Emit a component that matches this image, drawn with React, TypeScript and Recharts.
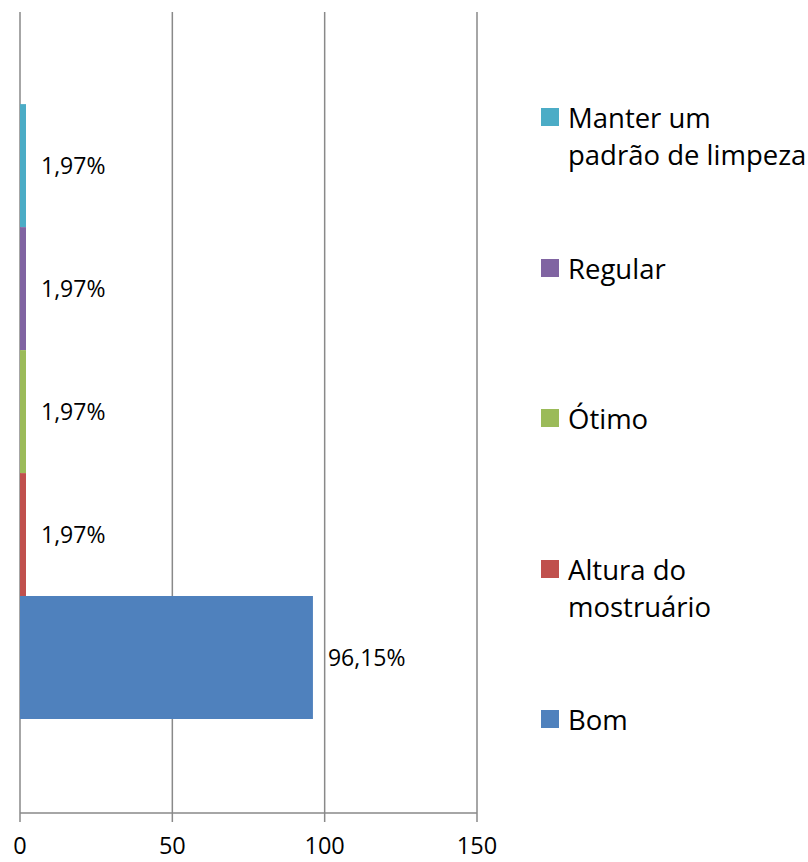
import React from 'react';
import { BarChart, Bar, XAxis, YAxis, CartesianGrid, LabelList } from 'recharts';

const seriesKeys = ['manter', 'regular', 'otimo', 'altura', 'bom'];
const seriesNames = ['Manter um\npadrão de limpeza', 'Regular', 'Ótimo', 'Altura do\nmostruário', 'Bom'];
const seriesValues = [1.97, 1.97, 1.97, 1.97, 96.15];
const seriesColors = ['#4BACC6', '#8064A2', '#9BBB59', '#C0504D', '#4F81BD'];
const xTicks = [0, 50, 100, 150];
const legendCenters = [117, 268, 418, 569, 719];

const row: Record<string, any> = { name: 'Avaliação' };
seriesKeys.forEach((k, i) => { row[k] = seriesValues[i]; });
const data = [row];

const FONT = '"Open Sans", sans-serif';
const fmt = (v: any) => Number(v).toFixed(2).replace('.', ',') + '%';

export default function App() {
  return (
    <div style={{ position: 'absolute', left: 0, top: 0, width: 808, height: 862, background: '#fff', fontFamily: FONT }}>
      <BarChart
        width={808}
        height={862}
        data={data}
        layout="vertical"
        margin={{ top: 12, left: 20, right: 331, bottom: 0 }}
        barCategoryGap="11.5%"
        barGap={0}
      >
        <CartesianGrid horizontal={false} stroke="#898989" strokeWidth={1.5} />
        <XAxis
          type="number"
          domain={[0, 150]}
          ticks={xTicks}
          interval={0}
          axisLine={{ stroke: '#898989', strokeWidth: 1.5 }}
          tickLine={{ stroke: '#898989', strokeWidth: 1.5 }}
          tickSize={9}
          tickMargin={15}
          tick={{ fill: '#000', fontSize: 23.5, fontFamily: FONT }}
          height={49}
        />
        <YAxis type="category" dataKey="name" hide />
        {seriesKeys.map((k, i) => (
          <Bar key={k} dataKey={k} fill={seriesColors[i]} isAnimationActive={false}>
            <LabelList
              dataKey={k}
              position="right"
              offset={15}
              formatter={fmt}
              style={{ fill: '#000', fontSize: 23, fontFamily: FONT }}
            />
          </Bar>
        ))}
      </BarChart>
      {seriesKeys.map((k, i) => (
        <div
          key={k}
          style={{
            position: 'absolute',
            left: 541,
            top: legendCenters[i] - 18.5,
            display: 'flex',
            alignItems: 'flex-start',
          }}
        >
          <div style={{ width: 18, height: 18, background: seriesColors[i], marginTop: 9.5, marginRight: 9 }} />
          <div style={{ fontSize: 27.5, lineHeight: '37px', whiteSpace: 'pre', color: '#000', fontFamily: FONT }}>
            {seriesNames[i]}
          </div>
        </div>
      ))}
    </div>
  );
}
